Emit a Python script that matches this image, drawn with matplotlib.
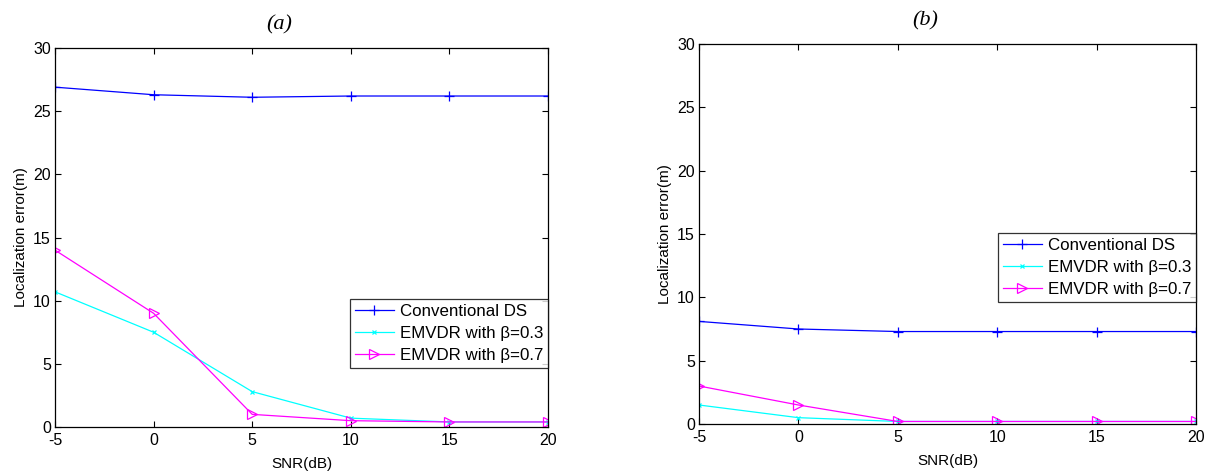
import matplotlib
matplotlib.use("Agg")
import matplotlib.pyplot as plt

plt.rcParams['font.family'] = ['Liberation Sans', 'DejaVu Sans']
plt.rcParams['axes.unicode_minus'] = False

snr = [-5, 0, 5, 10, 15, 20]

ds_a = [26.9, 26.3, 26.1, 26.2, 26.2, 26.2]
emvdr03_a = [10.7, 7.5, 2.8, 0.7, 0.4, 0.4]
emvdr07_a = [14.0, 9.0, 1.0, 0.5, 0.4, 0.4]

ds_b = [8.1, 7.5, 7.3, 7.3, 7.3, 7.3]
emvdr03_b = [1.5, 0.5, 0.2, 0.2, 0.2, 0.2]
emvdr07_b = [3.0, 1.5, 0.2, 0.2, 0.2, 0.2]

labels = ['Conventional DS', 'EMVDR with \u03b2=0.3', 'EMVDR with \u03b2=0.7']
titles = ['(a)', '(b)']
xticks = [-5, 0, 5, 10, 15, 20]
yticks = [0, 5, 10, 15, 20, 25, 30]

W, H = 1214, 476
fig = plt.figure(figsize=(W / 100, H / 100), dpi=100)
axes = [fig.add_axes([55 / W, (H - 427) / H, 493 / W, 379 / H]),
        fig.add_axes([699 / W, (H - 424) / H, 497 / W, 380 / H])]

datasets = [(ds_a, emvdr03_a, emvdr07_a), (ds_b, emvdr03_b, emvdr07_b)]
legend_anchor = [(1.0, 0.338), (1.0, 0.503)]

for ax, (ds, e03, e07), title, anchor in zip(axes, datasets, titles, legend_anchor):
    ax.plot(snr, ds, color='#0000ff', lw=0.9, marker='+', ms=7, mew=0.9, label=labels[0])
    ax.plot(snr, e03, color='#00ffff', lw=0.9, marker='x', ms=3.5, mew=0.9, label=labels[1])
    ax.plot(snr, e07, color='#ff00ff', lw=0.9, marker='>', ms=7, mew=0.9,
            mfc='none', label=labels[2])
    ax.set_xlim(-5, 20)
    ax.set_ylim(0, 30)
    ax.set_xticks(xticks)
    ax.set_yticks(yticks)
    ax.tick_params(direction='in', top=True, right=True, labelsize=11.5, length=4, width=0.8)
    ax.tick_params(axis='x', pad=4)
    ax.tick_params(axis='y', pad=3)
    for s in ax.spines.values():
        s.set_linewidth(0.9)
    ax.set_xlabel('SNR(dB)', fontsize=11, labelpad=7)
    ax.set_ylabel('Localization error(m)', fontsize=11, labelpad=4)
    ax.text(0.455, 1.06, title, transform=ax.transAxes, ha='center', va='center',
            fontsize=16, style='italic', family='Liberation Serif')
    leg = ax.legend(loc='upper right', bbox_to_anchor=anchor, fontsize=12.2,
                    frameon=True, fancybox=False, edgecolor='black',
                    borderpad=0.3, labelspacing=0.42, handlelength=2.3,
                    handletextpad=0.35, borderaxespad=0)
    leg.get_frame().set_linewidth(0.9)

fig.savefig('out.png', dpi=100)
